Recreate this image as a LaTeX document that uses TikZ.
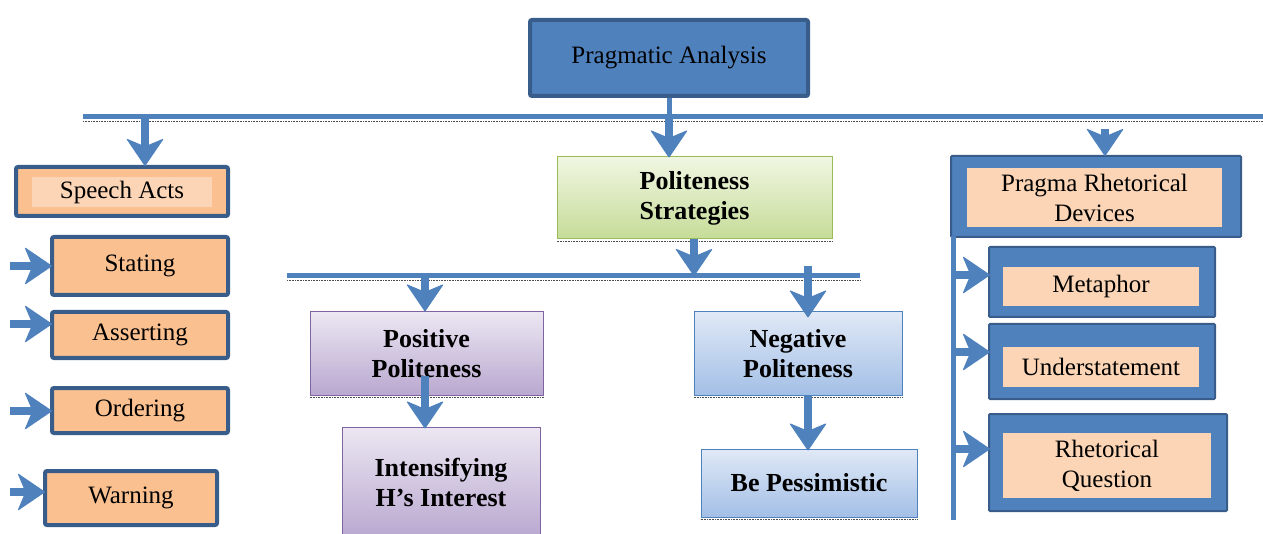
\documentclass[tikz,border=0pt]{standalone}
\usepackage{fontspec}
\setmainfont{Liberation Serif}
\usetikzlibrary{arrows.meta}
\definecolor{accent}{HTML}{4F81BD}
\definecolor{accentdk}{HTML}{385D8A}
\definecolor{peach}{HTML}{FAC090}
\definecolor{peachlt}{HTML}{FBD5B5}
\definecolor{greentop}{HTML}{F0F6E2}
\definecolor{greenbot}{HTML}{C6DC98}
\definecolor{greenline}{HTML}{9BBB59}
\definecolor{purptop}{HTML}{ECE7F2}
\definecolor{purpbot}{HTML}{B9A8D0}
\definecolor{purpline}{HTML}{8064A2}
\definecolor{bluetop}{HTML}{E0E9F6}
\definecolor{bluebot}{HTML}{A3BFE6}
\begin{document}
\begin{tikzpicture}[x=1pt,y=-1pt,
  txt/.style={font=\fontsize{25}{30}\selectfont, align=center, text=black},
  btxt/.style={font=\fontsize{26}{30}\selectfont\bfseries, align=center, text=black},
  mainbox/.style={txt, draw=accentdk, fill=accent, line width=4pt, rounded corners=2pt, inner sep=0pt},
  orangebox/.style={txt, draw=accentdk, fill=peach, line width=4pt, rounded corners=2pt, inner sep=0pt},
  greenbox/.style={btxt, draw=greenline, top color=greentop, bottom color=greenbot, line width=1pt, inner sep=0pt},
  purplebox/.style={btxt, draw=purpline, top color=purptop, bottom color=purpbot, line width=1pt, inner sep=0pt},
  bluebox/.style={btxt, draw=accent, top color=bluetop, bottom color=bluebot, line width=1pt, inner sep=0pt},
  frame/.style={draw=accentdk, fill=accent, line width=2pt, rounded corners=1pt, inner sep=0pt},
  panel/.style={txt, fill=peachlt, inner sep=0pt},
  bar/.style={draw=accent, line width=5pt},
  shadowline/.style={draw=black!70, line width=0.6pt, dash pattern=on 0.8pt off 0.8pt},
  blockarrow/.style={draw=accent, line width=8pt,
    -{Stealth[length=28pt,width=38pt,inset=8pt,line width=1pt,round]}},
]
\useasboundingbox (0,0) rectangle (1263,534);

% root
\node[mainbox, minimum width=278pt, minimum height=76pt] (root) at (669,58) {Pragmatic Analysis};

% main horizontal bar
\coordinate (barL) at (83,117);
\coordinate (barR) at (1263,117);
\draw[shadowline] ([yshift=-4pt]barL) -- ([yshift=-4pt]barR);
\draw[bar] (barL) -- (barR);

% speech acts column
\node[orangebox, minimum width=212pt, minimum height=49pt] (speech) at (122,191.5) {};
\node[panel, minimum width=180pt, minimum height=30pt] (speechlbl) at (122,192) {Speech Acts};
\node[orangebox, minimum width=176pt, minimum height=58pt] (stating) at (140,266) {Stating};
\node[orangebox, minimum width=176pt, minimum height=46pt] (asserting) at (140,335) {Asserting};
\node[orangebox, minimum width=176pt, minimum height=45pt] (ordering) at (140,410.5) {Ordering};
\node[orangebox, minimum width=172pt, minimum height=54pt] (warning) at (131,498) {Warning};

% politeness column
\node[greenbox, minimum width=275pt, minimum height=82pt] (polite) at (694.5,198) {Politeness\\Strategies};
\coordinate (bar2L) at (287,276);
\coordinate (bar2R) at (860,276);
\draw[shadowline] ([yshift=-4pt]bar2L) -- ([yshift=-4pt]bar2R);
\draw[bar] (bar2L) -- (bar2R);

\node[purplebox, minimum width=233pt, minimum height=83pt] (positive) at (426.5,353.5) {Positive\\Politeness};
\node[purplebox, minimum width=198pt, minimum height=110pt] (intens) at (441,482) {Intensifying\\H’s Interest};
\node[bluebox, minimum width=208pt, minimum height=83pt] (negative) at (798,353.5) {Negative\\Politeness};
\node[bluebox, minimum width=216pt, minimum height=68pt] (pessim) at (809,483) {Be Pessimistic};

\foreach \n in {polite,positive,negative,pessim}
  \draw[shadowline] ([yshift=-1.5pt]\n.south west) -- ([yshift=-1.5pt]\n.south east);

% rhetorical devices column
\node[frame, minimum width=290pt, minimum height=81pt] (prd) at (1096,196.5) {};
\node[panel, minimum width=255pt, minimum height=59pt] (prdlbl) at (1094.5,197.5) {Pragma Rhetorical\\Devices};
\node[frame, minimum width=226pt, minimum height=70pt] (meta) at (1102,282) {};
\node[panel, minimum width=196pt, minimum height=39pt] (metalbl) at (1101,286.5) {Metaphor};
\node[frame, minimum width=226pt, minimum height=75pt] (under) at (1102,361.5) {};
\node[panel, minimum width=196pt, minimum height=40pt] (underlbl) at (1101,367) {Understatement};
\node[frame, minimum width=238pt, minimum height=97pt] (rhet) at (1108,462.5) {};
\node[panel, minimum width=208pt, minimum height=65pt] (rhetlbl) at (1107,465.5) {Rhetorical\\Question};

\coordinate (vtop) at (953,236);
\coordinate (vbot) at (953,520);
\draw[bar] (vtop) -- (vbot);

% connectors from the main bar
\draw[draw=accent, line width=5pt] (root.south) -- (root.south |- barL);
\draw[blockarrow] (root.south |- barL) -- ([yshift=-1pt]root.south |- polite.north);
\coordinate (s1) at (145,117);
\draw[blockarrow] (s1) -- ([yshift=-1pt]s1 |- speech.north);
\coordinate (s3) at (1105,129);
\draw[blockarrow] (s3) -- ([yshift=-1pt]s3 |- prd.north);

% connectors in the politeness column
\coordinate (p0) at (694,239);
\draw[blockarrow] (p0) -- (p0 |- bar2L);
\coordinate (p1) at (425,276);
\draw[blockarrow] (p1) -- (p1 |- positive.north);
\coordinate (p2) at (808,266);
\draw[blockarrow] (p2) -- ([yshift=-6pt]p2 |- negative.north);
\coordinate (p3) at (425,376);
\draw[blockarrow] (p3) -- ([yshift=-2pt]p3 |- intens.north);
\draw[blockarrow] (negative.south -| p2) -- ([yshift=-2pt]pessim.north -| p2);

% left-hand arrows for the speech acts
\foreach \n/\yy in {stating/266,asserting/324,ordering/411,warning/492}{
  \coordinate (l\n) at (10,\yy);
  \draw[blockarrow] (l\n) -- ([xshift=2pt]l\n -| \n.west);
}

% arrows from the vertical rail
\foreach \n/\yy in {meta/275,under/352,rhet/449}{
  \coordinate (r\n) at (953,\yy);
  \draw[blockarrow] (r\n) -- ([xshift=2pt]r\n -| \n.west);
}
\end{tikzpicture}
\end{document}
